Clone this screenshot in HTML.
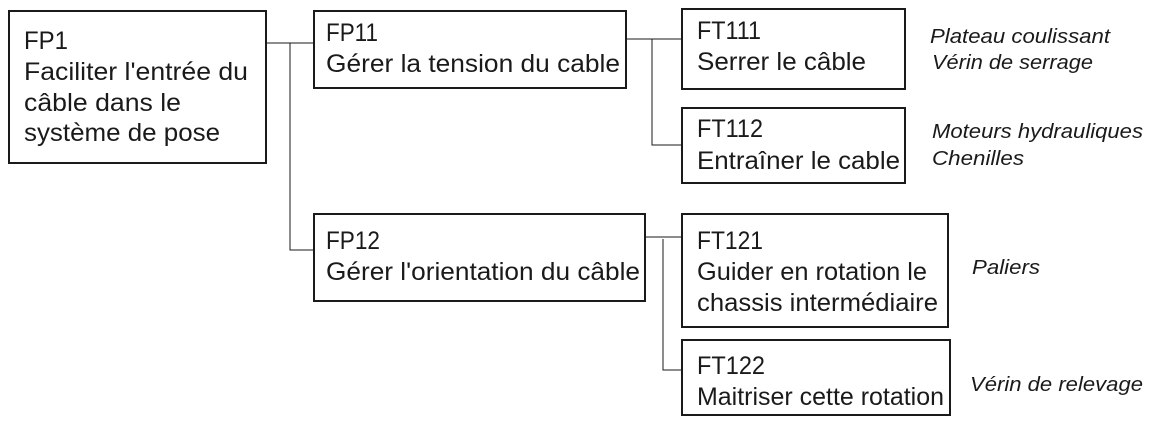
<!DOCTYPE html>
<html><head><meta charset="utf-8"><style>
html,body{margin:0;padding:0;background:#fff;width:1160px;height:425px;overflow:hidden}
svg{display:block}
.t{font-family:"Liberation Sans",sans-serif;font-size:25px;fill:#1a1a1a}
.i{font-family:"Liberation Sans",sans-serif;font-size:20px;font-style:italic;fill:#1a1a1a}
rect{fill:#fff;stroke:#1a1a1a;stroke-width:2}
line,polyline{stroke:#1a1a1a;stroke-width:1;fill:none}
</style></head><body>
<svg width="1160" height="425" viewBox="0 0 1160 425">
<line x1="266" y1="43" x2="314" y2="43"/>
<polyline points="290,43 290,250 314,250"/>
<line x1="626" y1="39" x2="682" y2="39"/>
<polyline points="652,39 652,145 682,145"/>
<line x1="645" y1="237" x2="682" y2="237"/>
<polyline points="663,239 663,370 682,370"/>
<rect x="9" y="11" width="257" height="152"/>
<rect x="314" y="11" width="312" height="77"/>
<rect x="682" y="9" width="223" height="80"/>
<rect x="682" y="108" width="223" height="75"/>
<rect x="314" y="214" width="331" height="87"/>
<rect x="682" y="214" width="266" height="113"/>
<rect x="682" y="340" width="268" height="75"/>
<text class="t" x="24" y="49" textLength="44" lengthAdjust="spacingAndGlyphs">FP1</text>
<text class="t" x="24" y="80" textLength="224" lengthAdjust="spacingAndGlyphs">Faciliter l'entrée du</text>
<text class="t" x="24" y="111" textLength="157" lengthAdjust="spacingAndGlyphs">câble dans le</text>
<text class="t" x="24" y="141" textLength="196" lengthAdjust="spacingAndGlyphs">système de pose</text>
<text class="t" x="326" y="41" textLength="52" lengthAdjust="spacingAndGlyphs">FP11</text>
<text class="t" x="326" y="72" textLength="294" lengthAdjust="spacingAndGlyphs">Gérer la tension du cable</text>
<text class="t" x="697" y="39" textLength="64" lengthAdjust="spacingAndGlyphs">FT111</text>
<text class="t" x="697" y="70" textLength="169" lengthAdjust="spacingAndGlyphs">Serrer le câble</text>
<text class="t" x="697" y="137" textLength="66" lengthAdjust="spacingAndGlyphs">FT112</text>
<text class="t" x="697" y="169" textLength="203" lengthAdjust="spacingAndGlyphs">Entraîner le cable</text>
<text class="t" x="326" y="249" textLength="54" lengthAdjust="spacingAndGlyphs">FP12</text>
<text class="t" x="326" y="280" textLength="314" lengthAdjust="spacingAndGlyphs">Gérer l'orientation du câble</text>
<text class="t" x="697" y="249" textLength="66" lengthAdjust="spacingAndGlyphs">FT121</text>
<text class="t" x="697" y="280" textLength="230" lengthAdjust="spacingAndGlyphs">Guider en rotation le</text>
<text class="t" x="697" y="311" textLength="241" lengthAdjust="spacingAndGlyphs">chassis intermédiaire</text>
<text class="t" x="697" y="374" textLength="68" lengthAdjust="spacingAndGlyphs">FT122</text>
<text class="t" x="697" y="405" textLength="247" lengthAdjust="spacingAndGlyphs">Maitriser cette rotation</text>
<text class="i" x="930" y="43" textLength="180" lengthAdjust="spacingAndGlyphs">Plateau coulissant</text>
<text class="i" x="932" y="69" textLength="161" lengthAdjust="spacingAndGlyphs">Vérin de serrage</text>
<text class="i" x="932" y="138" textLength="211" lengthAdjust="spacingAndGlyphs">Moteurs hydrauliques</text>
<text class="i" x="932" y="165" textLength="92" lengthAdjust="spacingAndGlyphs">Chenilles</text>
<text class="i" x="972" y="274" textLength="68" lengthAdjust="spacingAndGlyphs">Paliers</text>
<text class="i" x="970" y="391" textLength="173" lengthAdjust="spacingAndGlyphs">Vérin de relevage</text>
</svg>
</body></html>
